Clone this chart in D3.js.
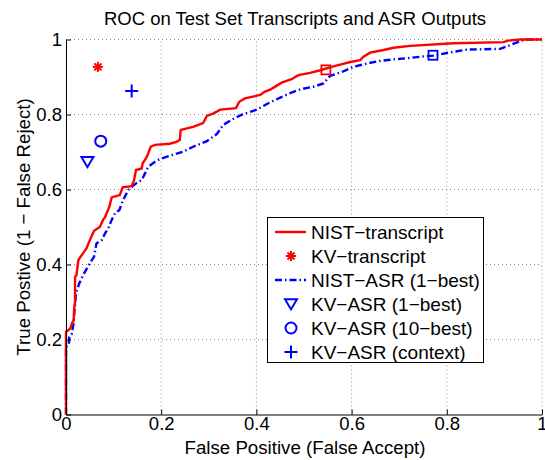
<!DOCTYPE html>
<html>
<head>
<meta charset="utf-8">
<script src="https://cdn.jsdelivr.net/npm/d3@7"></script>
<style>
  body { margin: 0; background: #fff; }
  svg { display: block; }
  text { font-family: "Liberation Sans", Arial, sans-serif; fill: #000; }
</style>
</head>
<body>
<script>
// ROC curves, [false positive, true positive]
const nistTranscript = [
  [0,0],[0,0.221],[0.006,0.226],[0.01,0.232],[0.013,0.245],[0.016,0.25],[0.017,0.28],[0.019,0.30],
  [0.019,0.367],[0.022,0.372],[0.026,0.412],[0.033,0.425],[0.043,0.443],[0.05,0.465],[0.059,0.49],
  [0.071,0.50],[0.078,0.519],[0.082,0.526],[0.091,0.554],[0.096,0.579],[0.113,0.585],[0.119,0.606],
  [0.138,0.609],[0.143,0.625],[0.147,0.652],[0.159,0.656],[0.161,0.67],[0.168,0.683],[0.173,0.697],
  [0.178,0.714],[0.187,0.719],[0.218,0.722],[0.232,0.727],[0.239,0.732],[0.241,0.759],[0.254,0.763],
  [0.267,0.767],[0.288,0.777],[0.296,0.796],[0.31,0.803],[0.324,0.813],[0.357,0.817],[0.364,0.834],
  [0.376,0.843],[0.39,0.847],[0.408,0.852],[0.418,0.861],[0.43,0.867],[0.443,0.877],[0.453,0.885],
  [0.474,0.894],[0.488,0.905],[0.513,0.911],[0.534,0.918],[0.558,0.927],[0.576,0.933],[0.597,0.94],
  [0.618,0.945],[0.625,0.954],[0.639,0.965],[0.667,0.972],[0.688,0.978],[0.723,0.983],[0.814,0.99],
  [0.919,0.993],[0.929,0.997],[0.954,1],[1,1]
];
const nistAsr = [
  [0,0],[0,0.181],[0.006,0.185],[0.007,0.207],[0.012,0.215],[0.016,0.243],[0.018,0.279],[0.021,0.323],
  [0.028,0.35],[0.036,0.372],[0.05,0.403],[0.059,0.421],[0.064,0.456],[0.075,0.465],[0.082,0.483],
  [0.089,0.497],[0.096,0.519],[0.103,0.537],[0.112,0.545],[0.12,0.572],[0.131,0.599],[0.138,0.607],
  [0.148,0.617],[0.159,0.625],[0.166,0.643],[0.173,0.661],[0.187,0.674],[0.197,0.681],[0.218,0.69],
  [0.246,0.701],[0.267,0.714],[0.296,0.729],[0.317,0.748],[0.33,0.772],[0.351,0.788],[0.372,0.801],
  [0.401,0.813],[0.422,0.828],[0.45,0.845],[0.471,0.857],[0.492,0.867],[0.52,0.874],[0.541,0.883],
  [0.555,0.903],[0.579,0.913],[0.604,0.927],[0.632,0.936],[0.66,0.943],[0.688,0.947],[0.723,0.951],
  [0.744,0.954],[0.771,0.957],[0.8,0.964],[0.842,0.973],[0.912,0.975],[0.933,0.985],[0.957,0.997],
  [0.968,1],[1,1]
];

// single operating points
const kvTranscript = [0.067, 0.927];
const kvAsr1best = [0.045, 0.674];
const kvAsr10best = [0.073, 0.729];
const kvAsrContext = [0.138, 0.863];
const nistTranscriptPoint = [0.546, 0.919];
const nistAsrPoint = [0.771, 0.958];

const ticks = [0, 0.2, 0.4, 0.6, 0.8, 1];
const legendLabels = ["NIST\u2212transcript", "KV\u2212transcript", "NIST\u2212ASR (1\u2212best)",
                      "KV\u2212ASR (1\u2212best)", "KV\u2212ASR (10\u2212best)", "KV\u2212ASR (context)"];

const w = 545, h = 460;
const plotLeft = 66, plotTop = 39.5, plotRight = 542, plotBottom = 414.5;
const red = "#ff0000", blue = "#0000ff";

const x = d3.scaleLinear().domain([0, 1]).range([plotLeft, plotRight]);
const y = d3.scaleLinear().domain([0, 1]).range([plotBottom, plotTop]);

const svg = d3.select("body").append("svg")
  .attr("width", w)
  .attr("height", h);

// dotted grid
svg.append("g").selectAll("line")
  .data(ticks.slice(1))
  .enter().append("line")
  .attr("x1", d => x(d)).attr("x2", d => x(d))
  .attr("y1", y(0)).attr("y2", y(1))
  .attr("stroke", "#666").attr("stroke-width", 0.8).attr("stroke-dasharray", "1,3");
svg.append("g").selectAll("line")
  .data(ticks.slice(1))
  .enter().append("line")
  .attr("y1", d => y(d)).attr("y2", d => y(d))
  .attr("x1", x(0)).attr("x2", x(1))
  .attr("stroke", "#666").attr("stroke-width", 0.8).attr("stroke-dasharray", "1,3");

const line = d3.line().x(d => x(d[0])).y(d => y(d[1]));

svg.append("path")
  .attr("d", line(nistAsr))
  .attr("fill", "none").attr("stroke", blue).attr("stroke-width", 2.4)
  .attr("stroke-dasharray", "7,3,1.5,3");

svg.append("path")
  .attr("d", line(nistTranscript))
  .attr("fill", "none").attr("stroke", red).attr("stroke-width", 2.4);

// marker drawing helpers
function asterisk(g, cx, cy, r, color) {
  [0, 45, 90, 135].forEach(a => {
    const dx = r * Math.cos(a * Math.PI / 180), dy = r * Math.sin(a * Math.PI / 180);
    g.append("line").attr("x1", cx - dx).attr("y1", cy - dy).attr("x2", cx + dx).attr("y2", cy + dy)
      .attr("stroke", color).attr("stroke-width", 2);
  });
}
function plus(g, cx, cy, r, color) {
  g.append("path").attr("d", `M${cx - r},${cy}H${cx + r}M${cx},${cy - r}V${cy + r}`)
    .attr("stroke", color).attr("stroke-width", 2).attr("fill", "none");
}
function circle(g, cx, cy, r, color) {
  g.append("circle").attr("cx", cx).attr("cy", cy).attr("r", r)
    .attr("stroke", color).attr("stroke-width", 2).attr("fill", "none");
}
function triangle(g, cx, cy, r, color) {
  g.append("path").attr("d", `M${cx - r},${cy - r * 0.8}L${cx + r},${cy - r * 0.8}L${cx},${cy + r * 0.9}Z`)
    .attr("stroke", color).attr("stroke-width", 2).attr("fill", "none");
}
function square(g, cx, cy, r, color) {
  g.append("rect").attr("x", cx - r).attr("y", cy - r).attr("width", 2 * r).attr("height", 2 * r)
    .attr("stroke", color).attr("stroke-width", 1.8).attr("fill", "none");
}

const marks = svg.append("g");
asterisk(marks, x(kvTranscript[0]), y(kvTranscript[1]), 5, red);
plus(marks, x(kvAsrContext[0]), y(kvAsrContext[1]), 6.5, blue);
circle(marks, x(kvAsr10best[0]), y(kvAsr10best[1]), 5.5, blue);
triangle(marks, x(kvAsr1best[0]), y(kvAsr1best[1]), 6, blue);
square(marks, x(nistTranscriptPoint[0]), y(nistTranscriptPoint[1]), 4.5, red);
square(marks, x(nistAsrPoint[0]), y(nistAsrPoint[1]), 4.5, blue);

// axes
const xAxis = d3.axisBottom(x).tickValues(ticks).tickFormat(d3.format("")).tickSize(-5).tickSizeOuter(0).tickPadding(2);
const yAxis = d3.axisLeft(y).tickValues(ticks).tickFormat(d3.format("")).tickSize(-5).tickSizeOuter(0).tickPadding(4);

svg.append("g")
  .attr("transform", "translate(0," + plotBottom + ")")
  .call(xAxis)
  .call(g => g.selectAll("text").style("font-size", "18.5px"));
svg.append("g")
  .attr("transform", "translate(" + plotLeft + ",0)")
  .call(yAxis)
  .call(g => g.selectAll("text").style("font-size", "18.5px"));
svg.selectAll(".domain, .tick line").attr("stroke", "#000");

svg.append("text")
  .attr("x", 295).attr("y", 25)
  .attr("text-anchor", "middle")
  .style("font-size", "18.5px")
  .text("ROC on Test Set Transcripts and ASR Outputs");

svg.append("text")
  .attr("x", 305).attr("y", 454)
  .attr("text-anchor", "middle")
  .style("font-size", "18.7px")
  .text("False Positive (False Accept)");

svg.append("text")
  .attr("transform", "translate(30," + ((plotTop + plotBottom) / 2) + ") rotate(-90)")
  .attr("text-anchor", "middle")
  .style("font-size", "18.7px")
  .text("True Postive (1 \u2212 False Reject)");

// legend
const legend = svg.append("g");
legend.append("rect")
  .attr("x", 267.5).attr("y", 217.5).attr("width", 216).attr("height", 145)
  .attr("fill", "#fff").attr("stroke", "#000").attr("stroke-width", 1);

const rowY = i => 232 + i * 24;
legend.selectAll("text")
  .data(legendLabels)
  .enter().append("text")
  .attr("x", 311).attr("y", (d, i) => rowY(i))
  .attr("dy", "0.35em")
  .style("font-size", "19px")
  .text(d => d);

legend.append("line").attr("x1", 275).attr("x2", 306).attr("y1", rowY(0)).attr("y2", rowY(0))
  .attr("stroke", red).attr("stroke-width", 2.4);
asterisk(legend, 291, rowY(1), 5, red);
legend.append("line").attr("x1", 275).attr("x2", 306).attr("y1", rowY(2)).attr("y2", rowY(2))
  .attr("stroke", blue).attr("stroke-width", 2.4).attr("stroke-dasharray", "7,3,1.5,3");
triangle(legend, 291, rowY(3), 6, blue);
circle(legend, 291, rowY(4), 5.5, blue);
plus(legend, 291, rowY(5), 6.5, blue);
</script>
</body>
</html>
